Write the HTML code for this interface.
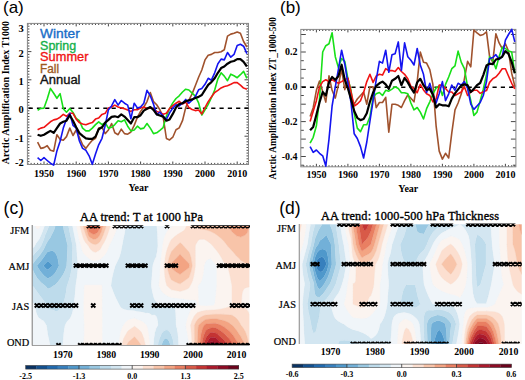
<!DOCTYPE html><html><head><meta charset="utf-8"><style>html,body{margin:0;padding:0;background:#fff;overflow:hidden}svg{display:block}</style></head><body>
<svg width="525" height="380" viewBox="0 0 525 380">
<rect width="525" height="380" fill="#fff"/>
<path d="M27.9,164.5 v-1.6 M27.9,23.4 v1.6 M31.1,164.5 v-1.6 M31.1,23.4 v1.6 M34.3,164.5 v-1.6 M34.3,23.4 v1.6 M37.6,164.5 v-1.6 M37.6,23.4 v1.6 M40.8,164.5 v-1.6 M40.8,23.4 v1.6 M44.0,164.5 v-3.0 M44.0,23.4 v3.0 M47.2,164.5 v-1.6 M47.2,23.4 v1.6 M50.4,164.5 v-1.6 M50.4,23.4 v1.6 M53.7,164.5 v-1.6 M53.7,23.4 v1.6 M56.9,164.5 v-1.6 M56.9,23.4 v1.6 M60.1,164.5 v-1.6 M60.1,23.4 v1.6 M63.3,164.5 v-1.6 M63.3,23.4 v1.6 M66.5,164.5 v-1.6 M66.5,23.4 v1.6 M69.8,164.5 v-1.6 M69.8,23.4 v1.6 M73.0,164.5 v-1.6 M73.0,23.4 v1.6 M76.2,164.5 v-3.0 M76.2,23.4 v3.0 M79.4,164.5 v-1.6 M79.4,23.4 v1.6 M82.6,164.5 v-1.6 M82.6,23.4 v1.6 M85.9,164.5 v-1.6 M85.9,23.4 v1.6 M89.1,164.5 v-1.6 M89.1,23.4 v1.6 M92.3,164.5 v-1.6 M92.3,23.4 v1.6 M95.5,164.5 v-1.6 M95.5,23.4 v1.6 M98.7,164.5 v-1.6 M98.7,23.4 v1.6 M102.0,164.5 v-1.6 M102.0,23.4 v1.6 M105.2,164.5 v-1.6 M105.2,23.4 v1.6 M108.4,164.5 v-3.0 M108.4,23.4 v3.0 M111.6,164.5 v-1.6 M111.6,23.4 v1.6 M114.8,164.5 v-1.6 M114.8,23.4 v1.6 M118.1,164.5 v-1.6 M118.1,23.4 v1.6 M121.3,164.5 v-1.6 M121.3,23.4 v1.6 M124.5,164.5 v-1.6 M124.5,23.4 v1.6 M127.7,164.5 v-1.6 M127.7,23.4 v1.6 M130.9,164.5 v-1.6 M130.9,23.4 v1.6 M134.2,164.5 v-1.6 M134.2,23.4 v1.6 M137.4,164.5 v-1.6 M137.4,23.4 v1.6 M140.6,164.5 v-3.0 M140.6,23.4 v3.0 M143.8,164.5 v-1.6 M143.8,23.4 v1.6 M147.0,164.5 v-1.6 M147.0,23.4 v1.6 M150.3,164.5 v-1.6 M150.3,23.4 v1.6 M153.5,164.5 v-1.6 M153.5,23.4 v1.6 M156.7,164.5 v-1.6 M156.7,23.4 v1.6 M159.9,164.5 v-1.6 M159.9,23.4 v1.6 M163.1,164.5 v-1.6 M163.1,23.4 v1.6 M166.4,164.5 v-1.6 M166.4,23.4 v1.6 M169.6,164.5 v-1.6 M169.6,23.4 v1.6 M172.8,164.5 v-3.0 M172.8,23.4 v3.0 M176.0,164.5 v-1.6 M176.0,23.4 v1.6 M179.2,164.5 v-1.6 M179.2,23.4 v1.6 M182.5,164.5 v-1.6 M182.5,23.4 v1.6 M185.7,164.5 v-1.6 M185.7,23.4 v1.6 M188.9,164.5 v-1.6 M188.9,23.4 v1.6 M192.1,164.5 v-1.6 M192.1,23.4 v1.6 M195.3,164.5 v-1.6 M195.3,23.4 v1.6 M198.6,164.5 v-1.6 M198.6,23.4 v1.6 M201.8,164.5 v-1.6 M201.8,23.4 v1.6 M205.0,164.5 v-3.0 M205.0,23.4 v3.0 M208.2,164.5 v-1.6 M208.2,23.4 v1.6 M211.4,164.5 v-1.6 M211.4,23.4 v1.6 M214.7,164.5 v-1.6 M214.7,23.4 v1.6 M217.9,164.5 v-1.6 M217.9,23.4 v1.6 M221.1,164.5 v-1.6 M221.1,23.4 v1.6 M224.3,164.5 v-1.6 M224.3,23.4 v1.6 M227.5,164.5 v-1.6 M227.5,23.4 v1.6 M230.8,164.5 v-1.6 M230.8,23.4 v1.6 M234.0,164.5 v-1.6 M234.0,23.4 v1.6 M237.2,164.5 v-3.0 M237.2,23.4 v3.0 M240.4,164.5 v-1.6 M240.4,23.4 v1.6 M243.6,164.5 v-1.6 M243.6,23.4 v1.6 M246.9,164.5 v-1.6 M246.9,23.4 v1.6 M27.4,161.6 h2.0 M248.5,161.6 h-2.0 M27.4,158.8 h2.0 M248.5,158.8 h-2.0 M27.4,155.9 h2.0 M248.5,155.9 h-2.0 M27.4,153.1 h2.0 M248.5,153.1 h-2.0 M27.4,150.3 h2.0 M248.5,150.3 h-2.0 M27.4,147.5 h2.0 M248.5,147.5 h-2.0 M27.4,144.7 h2.0 M248.5,144.7 h-2.0 M27.4,141.8 h2.0 M248.5,141.8 h-2.0 M27.4,139.0 h2.0 M248.5,139.0 h-2.0 M27.4,136.2 h4.0 M248.5,136.2 h-4.0 M27.4,133.4 h2.0 M248.5,133.4 h-2.0 M27.4,130.6 h2.0 M248.5,130.6 h-2.0 M27.4,127.7 h2.0 M248.5,127.7 h-2.0 M27.4,124.9 h2.0 M248.5,124.9 h-2.0 M27.4,122.1 h2.0 M248.5,122.1 h-2.0 M27.4,119.3 h2.0 M248.5,119.3 h-2.0 M27.4,116.5 h2.0 M248.5,116.5 h-2.0 M27.4,113.6 h2.0 M248.5,113.6 h-2.0 M27.4,110.8 h2.0 M248.5,110.8 h-2.0 M27.4,108.0 h4.0 M248.5,108.0 h-4.0 M27.4,105.2 h2.0 M248.5,105.2 h-2.0 M27.4,102.4 h2.0 M248.5,102.4 h-2.0 M27.4,99.5 h2.0 M248.5,99.5 h-2.0 M27.4,96.7 h2.0 M248.5,96.7 h-2.0 M27.4,93.9 h2.0 M248.5,93.9 h-2.0 M27.4,91.1 h2.0 M248.5,91.1 h-2.0 M27.4,88.3 h2.0 M248.5,88.3 h-2.0 M27.4,85.4 h2.0 M248.5,85.4 h-2.0 M27.4,82.6 h2.0 M248.5,82.6 h-2.0 M27.4,79.8 h4.0 M248.5,79.8 h-4.0 M27.4,77.0 h2.0 M248.5,77.0 h-2.0 M27.4,74.2 h2.0 M248.5,74.2 h-2.0 M27.4,71.3 h2.0 M248.5,71.3 h-2.0 M27.4,68.5 h2.0 M248.5,68.5 h-2.0 M27.4,65.7 h2.0 M248.5,65.7 h-2.0 M27.4,62.9 h2.0 M248.5,62.9 h-2.0 M27.4,60.1 h2.0 M248.5,60.1 h-2.0 M27.4,57.2 h2.0 M248.5,57.2 h-2.0 M27.4,54.4 h2.0 M248.5,54.4 h-2.0 M27.4,51.6 h4.0 M248.5,51.6 h-4.0 M27.4,48.8 h2.0 M248.5,48.8 h-2.0 M27.4,46.0 h2.0 M248.5,46.0 h-2.0 M27.4,43.1 h2.0 M248.5,43.1 h-2.0 M27.4,40.3 h2.0 M248.5,40.3 h-2.0 M27.4,37.5 h2.0 M248.5,37.5 h-2.0 M27.4,34.7 h2.0 M248.5,34.7 h-2.0 M27.4,31.9 h2.0 M248.5,31.9 h-2.0 M27.4,29.0 h2.0 M248.5,29.0 h-2.0 M27.4,26.2 h2.0 M248.5,26.2 h-2.0" stroke="#333" stroke-width="0.9" fill="none"/>
<rect x="27.4" y="23.4" width="221.1" height="141.1" fill="none" stroke="#888" stroke-width="1"/>
<line x1="28.6" y1="108.3" x2="248.5" y2="108.3" stroke="#000" stroke-width="1.4" stroke-dasharray="4.2,4.1"/>
<path d="M37.6,142.1 L40.8,148.4 L44.0,147.6 L47.2,145.7 L50.4,150.3 L53.7,151.1 L56.9,134.7 L60.1,139.4 L63.3,140.2 L66.5,136.6 L69.8,128.1 L73.0,135.5 L76.2,130.0 L79.4,137.2 L82.6,144.8 L85.9,148.4 L89.1,144.0 L92.3,140.2 L95.5,138.3 L98.7,128.1 L102.0,127.3 L105.2,133.6 L108.4,130.0 L111.6,123.5 L114.8,132.8 L118.1,134.7 L121.3,129.2 L124.5,133.6 L127.7,134.2 L130.9,132.0 L134.2,125.4 L137.4,117.2 L140.6,111.4 L143.8,107.0 L147.0,101.6 L150.3,92.5 L153.5,101.6 L156.7,104.8 L159.9,109.8 L163.1,116.6 L166.4,138.5 L169.6,139.9 L172.8,137.2 L176.0,129.8 L179.2,127.9 L182.5,120.7 L185.7,107.6 L188.9,100.2 L192.1,93.9 L195.3,85.7 L198.6,77.2 L201.8,70.0 L205.0,59.9 L208.2,55.2 L211.4,54.4 L214.7,52.5 L217.9,52.5 L221.1,51.7 L224.3,49.8 L227.5,36.1 L230.8,34.1 L234.0,33.3 L237.2,32.0 L240.4,33.3 L243.6,41.5 L246.9,47.0" stroke="#a0522d" stroke-width="1.6" fill="none" stroke-linejoin="round"/>
<path d="M37.6,110.3 L40.8,108.4 L44.0,108.1 L47.2,99.1 L50.4,88.4 L53.7,93.3 L56.9,98.3 L60.1,93.6 L63.3,108.7 L66.5,112.2 L69.8,108.4 L73.0,112.5 L76.2,118.5 L79.4,120.7 L82.6,128.1 L85.9,130.9 L89.1,130.9 L92.3,128.1 L95.5,124.6 L98.7,121.8 L102.0,124.6 L105.2,122.6 L108.4,128.1 L111.6,127.3 L114.8,124.6 L118.1,120.7 L121.3,121.8 L124.5,119.9 L127.7,126.2 L130.9,130.9 L134.2,130.0 L137.4,126.2 L140.6,128.9 L143.8,128.1 L147.0,123.5 L150.3,128.1 L153.5,133.6 L156.7,132.8 L159.9,130.3 L163.1,127.6 L166.4,116.1 L169.6,108.7 L172.8,102.9 L176.0,98.5 L179.2,95.8 L182.5,92.0 L185.7,89.2 L188.9,90.0 L192.1,93.1 L195.3,96.1 L198.6,102.9 L201.8,115.0 L205.0,109.8 L208.2,104.3 L211.4,97.7 L214.7,90.0 L217.9,78.8 L221.1,72.8 L224.3,76.1 L227.5,80.7 L230.8,74.2 L234.0,75.8 L237.2,77.7 L240.4,74.7 L243.6,71.4 L246.9,78.3" stroke="#18e018" stroke-width="1.6" fill="none" stroke-linejoin="round"/>
<path d="M37.6,129.8 L40.8,128.1 L44.0,127.3 L47.2,124.6 L50.4,121.8 L53.7,119.9 L56.9,119.1 L60.1,117.2 L63.3,114.4 L66.5,116.3 L69.8,113.3 L73.0,113.3 L76.2,119.1 L79.4,122.6 L82.6,124.0 L85.9,124.8 L89.1,123.5 L92.3,122.6 L95.5,119.1 L98.7,118.0 L102.0,114.4 L105.2,113.3 L108.4,107.9 L111.6,107.0 L114.8,105.1 L118.1,107.0 L121.3,107.9 L124.5,108.7 L127.7,110.0 L130.9,111.4 L134.2,109.8 L137.4,109.8 L140.6,107.9 L143.8,107.0 L147.0,108.7 L150.3,107.9 L153.5,108.7 L156.7,111.4 L159.9,112.5 L163.1,114.2 L166.4,113.3 L169.6,108.4 L172.8,105.7 L176.0,103.2 L179.2,101.3 L182.5,104.0 L185.7,102.1 L188.9,107.6 L192.1,109.5 L195.3,110.6 L198.6,110.0 L201.8,113.9 L205.0,107.6 L208.2,101.6 L211.4,96.9 L214.7,92.5 L217.9,90.3 L221.1,87.9 L224.3,86.5 L227.5,85.7 L230.8,84.3 L234.0,82.6 L237.2,82.6 L240.4,85.1 L243.6,88.1 L246.9,89.2" stroke="#f01414" stroke-width="1.6" fill="none" stroke-linejoin="round"/>
<path d="M37.6,157.7 L40.8,160.5 L44.0,157.7 L47.2,160.5 L50.4,163.2 L53.7,165.1 L56.9,150.9 L60.1,141.3 L63.3,128.1 L66.5,119.1 L69.8,113.3 L73.0,125.4 L76.2,128.1 L79.4,141.0 L82.6,148.4 L85.9,150.3 L89.1,155.8 L92.3,164.3 L95.5,153.9 L98.7,144.8 L102.0,138.3 L105.2,125.4 L108.4,109.8 L111.6,105.9 L114.8,99.6 L118.1,105.1 L121.3,100.5 L124.5,103.2 L127.7,105.1 L130.9,118.8 L134.2,103.2 L137.4,107.9 L140.6,107.0 L143.8,103.2 L147.0,90.3 L150.3,95.8 L153.5,104.3 L156.7,114.4 L159.9,112.2 L163.1,116.1 L166.4,119.4 L169.6,112.8 L172.8,108.1 L176.0,104.8 L179.2,105.9 L182.5,103.2 L185.7,99.4 L188.9,103.2 L192.1,100.2 L195.3,96.6 L198.6,89.8 L201.8,88.4 L205.0,84.3 L208.2,78.3 L211.4,80.2 L214.7,72.8 L217.9,63.7 L221.1,59.1 L224.3,59.9 L227.5,52.5 L230.8,57.2 L234.0,54.4 L237.2,45.4 L240.4,44.3 L243.6,46.2 L246.9,53.6" stroke="#1414f0" stroke-width="1.6" fill="none" stroke-linejoin="round"/>
<path d="M37.6,134.7 L40.8,135.8 L44.0,134.7 L47.2,132.8 L50.4,130.9 L53.7,132.8 L56.9,128.1 L60.1,123.5 L63.3,121.8 L66.5,120.7 L69.8,115.2 L73.0,120.7 L76.2,127.3 L79.4,133.1 L82.6,135.8 L85.9,138.3 L89.1,138.8 L92.3,138.8 L95.5,136.6 L98.7,129.2 L102.0,127.3 L105.2,122.6 L108.4,119.9 L111.6,116.9 L114.8,116.3 L118.1,117.2 L121.3,114.4 L124.5,116.6 L127.7,119.9 L130.9,123.5 L134.2,117.2 L137.4,117.2 L140.6,115.2 L143.8,110.6 L147.0,108.7 L150.3,107.0 L153.5,109.8 L156.7,114.4 L159.9,115.5 L163.1,116.6 L166.4,120.7 L169.6,119.4 L172.8,113.9 L176.0,107.6 L179.2,104.0 L182.5,103.2 L185.7,101.3 L188.9,100.2 L192.1,99.4 L195.3,98.0 L198.6,96.9 L201.8,95.0 L205.0,89.8 L208.2,84.8 L211.4,82.1 L214.7,78.3 L217.9,72.8 L221.1,68.1 L224.3,66.5 L227.5,63.7 L230.8,61.8 L234.0,61.0 L237.2,59.1 L240.4,59.1 L243.6,61.8 L246.9,66.5" stroke="#000000" stroke-width="2.2" fill="none" stroke-linejoin="round"/>
<text x="23.8" y="31.8" text-anchor="end" style="font-family:'Liberation Serif',serif;font-size:10.5px;font-weight:bold">3</text>
<text x="23.8" y="56.8" text-anchor="end" style="font-family:'Liberation Serif',serif;font-size:10.5px;font-weight:bold">2</text>
<text x="23.8" y="84.8" text-anchor="end" style="font-family:'Liberation Serif',serif;font-size:10.5px;font-weight:bold">1</text>
<text x="23.8" y="113.1" text-anchor="end" style="font-family:'Liberation Serif',serif;font-size:10.5px;font-weight:bold">0</text>
<text x="23.8" y="141.6" text-anchor="end" style="font-family:'Liberation Serif',serif;font-size:10.5px;font-weight:bold">-1</text>
<text x="23.8" y="165.8" text-anchor="end" style="font-family:'Liberation Serif',serif;font-size:10.5px;font-weight:bold">-2</text>
<text x="44.0" y="177.2" text-anchor="middle" style="font-family:'Liberation Serif',serif;font-size:10px;font-weight:bold">1950</text>
<text x="76.2" y="177.2" text-anchor="middle" style="font-family:'Liberation Serif',serif;font-size:10px;font-weight:bold">1960</text>
<text x="108.4" y="177.2" text-anchor="middle" style="font-family:'Liberation Serif',serif;font-size:10px;font-weight:bold">1970</text>
<text x="140.6" y="177.2" text-anchor="middle" style="font-family:'Liberation Serif',serif;font-size:10px;font-weight:bold">1980</text>
<text x="172.8" y="177.2" text-anchor="middle" style="font-family:'Liberation Serif',serif;font-size:10px;font-weight:bold">1990</text>
<text x="205.0" y="177.2" text-anchor="middle" style="font-family:'Liberation Serif',serif;font-size:10px;font-weight:bold">2000</text>
<text x="237.2" y="177.2" text-anchor="middle" style="font-family:'Liberation Serif',serif;font-size:10px;font-weight:bold">2010</text>
<text x="138.5" y="190.8" text-anchor="middle" style="font-family:'Liberation Serif',serif;font-size:10px;font-weight:bold">Year</text>
<text transform="translate(8.6,92.5) rotate(-90)" text-anchor="middle" style="font-family:'Liberation Serif',serif;font-size:10px;font-weight:bold">Arctic Amplification Index T1000</text>
<text x="40.1" y="38.0" fill="#1a6ec8" stroke="#1a6ec8" stroke-width="0.35" textLength="39.7" lengthAdjust="spacingAndGlyphs" style="font-family:'Liberation Sans',sans-serif;font-size:12.5px">Winter</text>
<text x="40.1" y="49.6" fill="#14b04a" stroke="#14b04a" stroke-width="0.35" textLength="36.0" lengthAdjust="spacingAndGlyphs" style="font-family:'Liberation Sans',sans-serif;font-size:12.5px">Spring</text>
<text x="40.1" y="61.2" fill="#f01414" stroke="#f01414" stroke-width="0.35" textLength="48.3" lengthAdjust="spacingAndGlyphs" style="font-family:'Liberation Sans',sans-serif;font-size:12.5px">Summer</text>
<text x="40.1" y="72.7" fill="#9c5a1e" stroke="#9c5a1e" stroke-width="0.35" textLength="19.0" lengthAdjust="spacingAndGlyphs" style="font-family:'Liberation Sans',sans-serif;font-size:12.5px">Fall</text>
<text x="40.1" y="84.4" fill="#111" stroke="#111" stroke-width="0.35" textLength="40.4" lengthAdjust="spacingAndGlyphs" style="font-family:'Liberation Sans',sans-serif;font-size:12.5px">Annual</text>
<text x="3" y="12.6" style="font-family:'Liberation Sans',sans-serif;font-size:17px">(a)</text>
<path d="M303.8,166.8 v-1.6 M303.8,29.4 v1.6 M306.9,166.8 v-1.6 M306.9,29.4 v1.6 M310.1,166.8 v-1.6 M310.1,29.4 v1.6 M313.2,166.8 v-1.6 M313.2,29.4 v1.6 M316.4,166.8 v-3.0 M316.4,29.4 v3.0 M319.5,166.8 v-1.6 M319.5,29.4 v1.6 M322.7,166.8 v-1.6 M322.7,29.4 v1.6 M325.8,166.8 v-1.6 M325.8,29.4 v1.6 M329.0,166.8 v-1.6 M329.0,29.4 v1.6 M332.1,166.8 v-1.6 M332.1,29.4 v1.6 M335.3,166.8 v-1.6 M335.3,29.4 v1.6 M338.4,166.8 v-1.6 M338.4,29.4 v1.6 M341.6,166.8 v-1.6 M341.6,29.4 v1.6 M344.8,166.8 v-1.6 M344.8,29.4 v1.6 M347.9,166.8 v-3.0 M347.9,29.4 v3.0 M351.0,166.8 v-1.6 M351.0,29.4 v1.6 M354.2,166.8 v-1.6 M354.2,29.4 v1.6 M357.3,166.8 v-1.6 M357.3,29.4 v1.6 M360.5,166.8 v-1.6 M360.5,29.4 v1.6 M363.6,166.8 v-1.6 M363.6,29.4 v1.6 M366.8,166.8 v-1.6 M366.8,29.4 v1.6 M369.9,166.8 v-1.6 M369.9,29.4 v1.6 M373.1,166.8 v-1.6 M373.1,29.4 v1.6 M376.2,166.8 v-1.6 M376.2,29.4 v1.6 M379.4,166.8 v-3.0 M379.4,29.4 v3.0 M382.5,166.8 v-1.6 M382.5,29.4 v1.6 M385.7,166.8 v-1.6 M385.7,29.4 v1.6 M388.8,166.8 v-1.6 M388.8,29.4 v1.6 M392.0,166.8 v-1.6 M392.0,29.4 v1.6 M395.1,166.8 v-1.6 M395.1,29.4 v1.6 M398.3,166.8 v-1.6 M398.3,29.4 v1.6 M401.4,166.8 v-1.6 M401.4,29.4 v1.6 M404.6,166.8 v-1.6 M404.6,29.4 v1.6 M407.8,166.8 v-1.6 M407.8,29.4 v1.6 M410.9,166.8 v-3.0 M410.9,29.4 v3.0 M414.0,166.8 v-1.6 M414.0,29.4 v1.6 M417.2,166.8 v-1.6 M417.2,29.4 v1.6 M420.3,166.8 v-1.6 M420.3,29.4 v1.6 M423.5,166.8 v-1.6 M423.5,29.4 v1.6 M426.6,166.8 v-1.6 M426.6,29.4 v1.6 M429.8,166.8 v-1.6 M429.8,29.4 v1.6 M432.9,166.8 v-1.6 M432.9,29.4 v1.6 M436.1,166.8 v-1.6 M436.1,29.4 v1.6 M439.2,166.8 v-1.6 M439.2,29.4 v1.6 M442.4,166.8 v-3.0 M442.4,29.4 v3.0 M445.5,166.8 v-1.6 M445.5,29.4 v1.6 M448.7,166.8 v-1.6 M448.7,29.4 v1.6 M451.8,166.8 v-1.6 M451.8,29.4 v1.6 M455.0,166.8 v-1.6 M455.0,29.4 v1.6 M458.1,166.8 v-1.6 M458.1,29.4 v1.6 M461.3,166.8 v-1.6 M461.3,29.4 v1.6 M464.4,166.8 v-1.6 M464.4,29.4 v1.6 M467.6,166.8 v-1.6 M467.6,29.4 v1.6 M470.8,166.8 v-1.6 M470.8,29.4 v1.6 M473.9,166.8 v-3.0 M473.9,29.4 v3.0 M477.0,166.8 v-1.6 M477.0,29.4 v1.6 M480.2,166.8 v-1.6 M480.2,29.4 v1.6 M483.3,166.8 v-1.6 M483.3,29.4 v1.6 M486.5,166.8 v-1.6 M486.5,29.4 v1.6 M489.6,166.8 v-1.6 M489.6,29.4 v1.6 M492.8,166.8 v-1.6 M492.8,29.4 v1.6 M495.9,166.8 v-1.6 M495.9,29.4 v1.6 M499.1,166.8 v-1.6 M499.1,29.4 v1.6 M502.2,166.8 v-1.6 M502.2,29.4 v1.6 M505.4,166.8 v-3.0 M505.4,29.4 v3.0 M508.5,166.8 v-1.6 M508.5,29.4 v1.6 M511.7,166.8 v-1.6 M511.7,29.4 v1.6 M514.8,166.8 v-1.6 M514.8,29.4 v1.6 M300.8,165.2 h3.0 M515.9,165.2 h-3.0 M300.8,156.5 h5.0 M515.9,156.5 h-5.0 M300.8,147.8 h3.0 M515.9,147.8 h-3.0 M300.8,139.1 h5.0 M515.9,139.1 h-5.0 M300.8,130.3 h3.0 M515.9,130.3 h-3.0 M300.8,121.6 h5.0 M515.9,121.6 h-5.0 M300.8,112.9 h3.0 M515.9,112.9 h-3.0 M300.8,104.2 h5.0 M515.9,104.2 h-5.0 M300.8,95.5 h3.0 M515.9,95.5 h-3.0 M300.8,86.8 h5.0 M515.9,86.8 h-5.0 M300.8,78.1 h3.0 M515.9,78.1 h-3.0 M300.8,69.4 h5.0 M515.9,69.4 h-5.0 M300.8,60.7 h3.0 M515.9,60.7 h-3.0 M300.8,52.0 h5.0 M515.9,52.0 h-5.0 M300.8,43.2 h3.0 M515.9,43.2 h-3.0 M300.8,34.5 h5.0 M515.9,34.5 h-5.0" stroke="#333" stroke-width="0.9" fill="none"/>
<rect x="300.8" y="29.4" width="215.1" height="137.4" fill="none" stroke="#888" stroke-width="1"/>
<line x1="301.6" y1="87.3" x2="515.9" y2="87.3" stroke="#000" stroke-width="1.4" stroke-dasharray="4.2,4.1"/>
<path d="M310.1,116.4 L313.2,107.7 L316.4,90.3 L319.5,81.1 L322.7,91.5 L325.8,102.1 L329.0,75.8 L332.1,90.3 L335.3,98.1 L338.4,85.1 L341.6,69.4 L344.8,89.6 L347.9,78.4 L351.0,97.3 L354.2,104.2 L357.3,99.0 L360.5,95.5 L363.6,92.0 L366.8,104.2 L369.9,86.8 L373.1,86.8 L376.2,107.7 L379.4,102.5 L382.5,102.5 L385.7,97.3 L388.8,132.1 L392.0,104.2 L395.1,104.2 L398.3,105.3 L401.4,107.5 L404.6,100.7 L407.8,95.0 L410.9,98.3 L414.0,101.8 L417.2,81.6 L420.3,52.0 L423.5,62.2 L426.6,63.1 L429.8,69.6 L432.9,84.4 L436.1,125.8 L439.2,151.1 L442.4,159.1 L445.5,153.3 L448.7,158.0 L451.8,132.8 L455.0,109.8 L458.1,103.0 L461.3,93.8 L464.4,78.8 L467.6,61.4 L470.8,66.8 L473.9,30.0 L477.0,32.8 L480.2,35.4 L483.3,34.5 L486.5,31.8 L489.6,56.7 L492.8,62.1 L495.9,33.7 L499.1,42.9 L502.2,48.5 L505.4,43.8 L508.5,51.1 L511.7,73.2 L514.8,86.1" stroke="#a0522d" stroke-width="1.6" fill="none" stroke-linejoin="round"/>
<path d="M310.1,143.1 L313.2,137.3 L316.4,125.8 L319.5,99.0 L322.7,52.0 L325.8,45.7 L329.0,43.8 L332.1,32.8 L335.3,56.7 L338.4,67.6 L341.6,58.6 L344.8,61.4 L347.9,78.8 L351.0,90.3 L354.2,113.3 L357.3,128.1 L360.5,131.6 L363.6,124.8 L366.8,124.8 L369.9,116.8 L373.1,97.3 L376.2,93.8 L379.4,92.5 L382.5,95.5 L385.7,90.3 L388.8,91.2 L392.0,89.1 L395.1,86.8 L398.3,88.5 L401.4,92.7 L404.6,92.7 L407.8,93.8 L410.9,103.0 L414.0,109.8 L417.2,107.5 L420.3,112.1 L423.5,119.0 L426.6,108.7 L429.8,101.8 L432.9,93.8 L436.1,88.0 L439.2,85.8 L442.4,95.5 L445.5,84.4 L448.7,77.0 L451.8,68.7 L455.0,65.9 L458.1,51.1 L461.3,62.4 L464.4,68.7 L467.6,86.8 L470.8,100.7 L473.9,115.5 L477.0,112.1 L480.2,100.7 L483.3,89.2 L486.5,74.6 L489.6,56.7 L492.8,60.3 L495.9,68.7 L499.1,56.7 L502.2,47.4 L505.4,48.5 L508.5,51.1 L511.7,52.0 L514.8,73.2" stroke="#18e018" stroke-width="1.6" fill="none" stroke-linejoin="round"/>
<path d="M310.1,121.6 L313.2,111.2 L316.4,100.7 L319.5,86.8 L322.7,81.6 L325.8,79.8 L329.0,81.6 L332.1,79.8 L335.3,81.6 L338.4,83.3 L341.6,81.6 L344.8,79.8 L347.9,78.1 L351.0,92.0 L354.2,106.0 L357.3,104.0 L360.5,100.7 L363.6,92.5 L366.8,81.6 L369.9,74.3 L373.1,82.4 L376.2,76.0 L379.4,74.3 L382.5,75.1 L385.7,68.7 L388.8,70.6 L392.0,70.6 L395.1,71.5 L398.3,67.6 L401.4,71.5 L404.6,74.3 L407.8,78.8 L410.9,86.3 L414.0,88.9 L417.2,92.7 L420.3,84.4 L423.5,89.9 L426.6,93.8 L429.8,95.5 L432.9,101.8 L436.1,99.0 L439.2,85.1 L442.4,85.1 L445.5,88.5 L448.7,92.0 L451.8,92.0 L455.0,95.5 L458.1,93.8 L461.3,92.0 L464.4,86.8 L467.6,95.5 L470.8,92.0 L473.9,90.3 L477.0,90.3 L480.2,93.4 L483.3,91.7 L486.5,90.6 L489.6,82.4 L492.8,78.8 L495.9,76.9 L499.1,73.2 L502.2,68.7 L505.4,68.7 L508.5,76.0 L511.7,83.3 L514.8,88.9" stroke="#f01414" stroke-width="1.6" fill="none" stroke-linejoin="round"/>
<path d="M310.1,146.6 L313.2,152.3 L316.4,150.0 L319.5,153.3 L322.7,155.8 L325.8,166.1 L329.0,139.1 L332.1,106.0 L335.3,86.8 L338.4,69.4 L341.6,50.2 L344.8,64.2 L347.9,83.3 L351.0,102.5 L354.2,133.8 L357.3,138.5 L360.5,146.6 L363.6,158.0 L366.8,142.0 L369.9,121.3 L373.1,100.7 L376.2,79.8 L379.4,61.4 L382.5,63.1 L385.7,50.2 L388.8,72.3 L392.0,54.7 L395.1,53.7 L398.3,41.9 L401.4,70.4 L404.6,42.9 L407.8,56.7 L410.9,60.3 L414.0,65.0 L417.2,48.5 L420.3,65.0 L423.5,74.3 L426.6,92.5 L429.8,83.3 L432.9,94.5 L436.1,103.0 L439.2,93.8 L442.4,81.6 L445.5,100.7 L448.7,93.8 L451.8,85.1 L455.0,90.3 L458.1,83.3 L461.3,85.1 L464.4,81.6 L467.6,88.5 L470.8,104.2 L473.9,109.4 L477.0,106.0 L480.2,102.5 L483.3,95.5 L486.5,81.6 L489.6,58.4 L492.8,57.5 L495.9,54.7 L499.1,59.5 L502.2,56.7 L505.4,40.1 L508.5,34.5 L511.7,29.3 L514.8,41.9" stroke="#1414f0" stroke-width="1.6" fill="none" stroke-linejoin="round"/>
<path d="M310.1,130.3 L313.2,126.9 L316.4,114.7 L319.5,102.5 L322.7,92.0 L325.8,95.5 L329.0,82.4 L332.1,77.0 L335.3,79.8 L338.4,76.3 L341.6,64.7 L344.8,79.8 L347.9,88.5 L351.0,99.0 L354.2,111.0 L357.3,117.8 L360.5,120.1 L363.6,119.0 L366.8,113.3 L369.9,101.8 L373.1,92.5 L376.2,85.9 L379.4,83.3 L382.5,81.6 L385.7,84.4 L388.8,88.9 L392.0,80.7 L395.1,78.8 L398.3,76.0 L401.4,85.2 L404.6,77.9 L407.8,82.4 L410.9,88.0 L414.0,92.7 L417.2,82.4 L420.3,78.8 L423.5,85.2 L426.6,89.9 L429.8,88.9 L432.9,94.6 L436.1,107.5 L439.2,104.2 L442.4,105.3 L445.5,105.3 L448.7,106.3 L451.8,98.6 L455.0,93.4 L458.1,89.4 L461.3,85.4 L464.4,84.4 L467.6,85.1 L470.8,92.0 L473.9,88.9 L477.0,85.2 L480.2,83.0 L483.3,75.1 L486.5,65.5 L489.6,63.6 L492.8,64.2 L495.9,59.5 L499.1,58.6 L502.2,56.7 L505.4,51.1 L508.5,53.9 L511.7,62.1 L514.8,73.2" stroke="#000000" stroke-width="2.2" fill="none" stroke-linejoin="round"/>
<text x="297.5" y="55.4" text-anchor="end" style="font-family:'Liberation Serif',serif;font-size:10px;font-weight:bold">0.2</text>
<text x="297.5" y="90.2" text-anchor="end" style="font-family:'Liberation Serif',serif;font-size:10px;font-weight:bold">0.0</text>
<text x="297.5" y="125.0" text-anchor="end" style="font-family:'Liberation Serif',serif;font-size:10px;font-weight:bold">-0.2</text>
<text x="297.5" y="159.9" text-anchor="end" style="font-family:'Liberation Serif',serif;font-size:10px;font-weight:bold">-0.4</text>
<text x="316.4" y="178.4" text-anchor="middle" style="font-family:'Liberation Serif',serif;font-size:10px;font-weight:bold">1950</text>
<text x="347.9" y="178.4" text-anchor="middle" style="font-family:'Liberation Serif',serif;font-size:10px;font-weight:bold">1960</text>
<text x="379.4" y="178.4" text-anchor="middle" style="font-family:'Liberation Serif',serif;font-size:10px;font-weight:bold">1970</text>
<text x="410.9" y="178.4" text-anchor="middle" style="font-family:'Liberation Serif',serif;font-size:10px;font-weight:bold">1980</text>
<text x="442.4" y="178.4" text-anchor="middle" style="font-family:'Liberation Serif',serif;font-size:10px;font-weight:bold">1990</text>
<text x="473.9" y="178.4" text-anchor="middle" style="font-family:'Liberation Serif',serif;font-size:10px;font-weight:bold">2000</text>
<text x="505.4" y="178.4" text-anchor="middle" style="font-family:'Liberation Serif',serif;font-size:10px;font-weight:bold">2010</text>
<text x="408.3" y="191.7" text-anchor="middle" style="font-family:'Liberation Serif',serif;font-size:10px;font-weight:bold">Year</text>
<text transform="translate(276,98.3) rotate(-90)" text-anchor="middle" style="font-family:'Liberation Serif',serif;font-size:9.37px;font-weight:bold">Arctic Amplification Index ZT_1000-500</text>
<text x="280" y="13" style="font-family:'Liberation Sans',sans-serif;font-size:17px">(b)</text>
<defs><clipPath id="clipc"><rect x="32.5" y="226.0" width="217.0" height="119.2"/></clipPath></defs>
<g clip-path="url(#clipc)">
<rect x="32.5" y="226.0" width="217.0" height="119.2" fill="#f0f5f9"/>
<path fill="#4f98cb" stroke="#4f98cb" stroke-width="3" transform="scale(.1)" d="M475 2613l3-1 4 2 20 15 10 11 11 17-12 14-33 27-3 0-17-14-25-27 42-44z"/>
<path fill="#72b0d8" stroke="#72b0d8" stroke-width="3" transform="scale(.1)" d="M515 2507l7-2 20 12 10 10 9 13 11 24 5 17 13 76-28 55-19 29-18 17-14 10-33 17-8-4-29-23-25-27-28-40-19-34 40-46 30-40 16-27 19-24 4-3 37-10zM475 2614l-42 43 25 27 17 14 3 0 33-27 12-14-8-13-13-15-20-15-4-2-3 2z"/>
<path fill="#99c8e2" stroke="#99c8e2" stroke-width="3" transform="scale(.1)" d="M552 2263l0-3 79 0 1 3 9 50 9 30 27 114-10 200-13 40-22 48-29 43-23 30-28 29-10 8-4 1-36 24-24 8-23-29-47-37-39-44-31-56-13-34 0-46 36-48 30-33 44-64 17-35 4-12 22-39 26-37 14-31 10-16 14-31 10-33zM515 2507l-37 10-4 3-19 24-16 27-30 40-40 46 19 34 28 40 25 27 29 23 8 4 33-17 14-10 18-17 19-29 28-55-10-63-12-40-13-23-13-14-20-12-7 2zM1648 3386l24 1 20 28 13 37-91 0 14-38 20-28z"/>
<path fill="#bddbeb" stroke="#bddbeb" stroke-width="3" transform="scale(.1)" d="M492 2260l60 0-7 27-12 30-15 26-14 31-26 37-22 39-4 12-20 40-41 59-30 33-36 48 0-79 18-23 49-53 19-30 23-53 20-61 8-15 27-65 3-3zM632 2260l53 0 41 197-5 200-8 50-13 61-18 60-12 30-13 86-8 37-13 47-10 27-4 5-19 21-18 24-20 11-35-15-32-9-26-41-67-86-80-111 0-166 13 34 31 56 39 44 47 37 23 29 24-8 36-24 4-1 30-28 31-39 29-43 12-24 10-24 13-40 10-200-25-106-14-51-6-40zM1658 3301l14-2 10 7 13 12 17 27 16 47 11 60-34 0-13-37-20-28-4-1-20 0-20 28-14 38-36 0 5-27 12-41 20-46 13-18 10-9 10-7 10-3z"/>
<path fill="#d3e6f1" stroke="#d3e6f1" stroke-width="3" transform="scale(.1)" d="M445 2260l46 0-37 83-20 61-23 53-19 30-49 53-18 23 0-79 22-24 11-23 19-27 14-16 29-67 25-67zM685 2260l41 0 1 3 38 194 7 114 10 83-10 104-15 103-9 107-16 120-10 46-10 28-11 20-9 12-20 18-22 43-12 77-10 120-127 0-24-110-12-87-30-47-20-10-17-12-10-9-11-15-11-24-7-23-10-60-24-36 0-165 80 111 67 86 26 41 32 9 35 15 20-11 18-24 23-26 17-50 9-37 11-57 7-53 11-27 19-63 13-61 8-50 5-200-41-197zM1258 2260l310 0 7 77 4 123-7 56-10 53-4 5-14 30-16 52-15 195 3 27 12 60 11 40 13 27 19 23 25 17 26 10 6 8 30-3 24 0 33 3 22 8 8 7 4 7 5 16 4 37 2 114 9 30 8 43 6 54 4 73-48 0-11-60-16-47-17-27-23-19-14 2-10 3-6 4-14 12-13 18-20 46-12 41-5 27-44 0 4-60 10-67 12-37 8-17 12-19-2-27-6-35-10-27-20-15-24 6-1-3-12-10-25-10-28-1-34-9-50-5-26-8-64-5-35-8-15-6-16-11-14-17-47-96-42-107 7-54 14-70 22-77 40-82 10-31 12-50 20-110 12-51 10-73 2 0z"/>
<path fill="#f0f5f9" stroke="#f0f5f9" stroke-width="3" transform="scale(.1)" d="M328 2260l28 0 2 8 10 20 20-2 4-4 9-22 44 0-25 67-29 67-14 16-19 27-11 23-22 24 0-224 3 0zM728 2260l37 0 21 107 14 57 12 36 2 14 9 33 15 27 10 13 30 28 20 16 30 13 24 3 28-6 18-6 10-6 20-18 36-47 18-39 8-25 51-103 21-58 10-39 84 0-7 57-15 67-26 136-16 55-39 79-15 49-18 78-11 77 29 76 22 51 38 76 10 13 10 9 25 12 29 7 70 6 26 8 44 4 40 10 28 1 25 10 12 10 1 3 24-6 20 15 10 27 6 35 2 27-12 19-8 17-12 37-10 67-4 60-37 0-7-77-8-57-6-33-8-27-3-5-23-23-30-21-44-15-23-10-27 6-40 13-26 25-20 30-13 27-13 43-9 47-9 77-166 0-1-487-1-107-2-6-170 0-3 3-8 180 2 120 5 90 0 67-4 87-2 13-6 17-7 8-13 6-17 3-33 2-5 4-129 0 10-120 12-77 22-43 20-18 15-22 15-38 7-29 17-120 9-87 2-37 13-87 12-113-10-90-7-114-38-190-1-7 2 0zM1568 2260l165 0-23 13-12 9-25 28-20 37-18 60-11 67-13 113-7 77-7 127-7 63 14 34 18 30 20 20 36 23 31 14 126 13 53 10 27 0 33 3 14 6 7 14 3 34-14 6-26 17-19 20-15 25-24 65-14 60 1 17 23 130 7 57-104 0-4-73-6-54-8-43-9-30 0-60-4-77-4-22-7-15-13-10-17-5-33-3-24 0-30 3-6-8-26-10-18-11-14-13-18-26-11-30-16-71-6-43 15-195 16-52 14-30 4-5 10-53 7-56-4-123-7-77zM2102 2584l3 0 3 3 60 70 0 201-10 103-9 70-4 14-8 10-75 4-77-4-5-197 22-26 8-14 12-32 10-47 9-82 9-30 7-13 11-13 17-11 17-6zM326 3021l23 34 10 60 7 23 11 24 11 15 10 9 17 12 20 10 30 47 12 87 24 110-176 0 1-431z"/>
<path fill="#fbf4f0" stroke="#fbf4f0" stroke-width="3" transform="scale(.1)" d="M358 2260l43 0-8 20-5 6-20 2-10-20-2-8 2 0zM768 2260l34 0 11 53 17 61 18 39 9 14 29 33 7 14 15 22 20 17 24 10 10-3 30-17 10-10 10-17 7-16 32-56 11-24 13-33 28-87 69 0-10 39-21 58-51 103-16 44-10 20-14 20-22 27-20 18-10 6-43 12-27-3-23-9-20-14-37-34-10-13-10-16-6-14-10-44-19-63-27-130-1-7 3 0zM1728 2262l5-2 131 0-2 8-10 20-6 9-14 14-55 32-32 24-30 27-7 10-13 26-27 73-17 78-8 56-2 27 7 95 7 49 13 46 10 12 20 19 17 12 80 16 10 0 43-13 24-10 18-12 18-30 17-40 11-40 9-47 9-64-1-197 3-10 13-26 9-13 13-14 7-4 22 1 12-2 10 1 30 18 26 19 24 22 50 60 26 38 22 37 15 32 40 38 23 90 21 107 0 201-27 13-21 7-59 14-70 10-77 4-50 9-40 12-25 27-11 17-15 30-8 20-10 34 9 100 5 100-29 0-7-57-23-130-1-17 7-33 11-39 20-53 10-18 10-13 20-19 20-12 14-6-2-30-5-14-3-4-7-4-13-3-54-2-53-10-126-13-31-14-22-13-28-23-10-13-14-24-14-34 7-63 7-127 7-77 17-142 10-51 15-47 20-37 25-28 30-20zM2101 2584l-16 6-17 11-11 13-7 13-9 30-9 82-10 47-12 32-8 14-22 26 5 197 77 4 75-4 8-10 4-14 9-70 10-103 0-201-60-70-3-3-4 0zM848 2852l170 0 1 2 2 111 1 487-265 0 5-4 40-3 20-6 8-7 4-7 6-26 3-47 1-107-5-90-2-120 7-174 1-6 3-3zM2485 2871l10-2 0 279-11-27-22-32-20-18-15-10-13-6 4-88 4-33 5-20 10-20 8-8 13-8 27-7zM1345 3184l23 10 40 13 14 8 29 23 11 11 6 9 8 27 9 53 8 64 4 50-43 0-16-67-13-37-13-27-30-31-37-28-57 41-14 15-38 67-8 30-7 37-33 0 9-77 9-47 13-43 13-27 20-30 26-25 40-13 27-6z"/>
<path fill="#fcdfd0" stroke="#fcdfd0" stroke-width="3" transform="scale(.1)" d="M805 2260l27 0 23 80 21 50 12 21 27 21 13 7 24 7 6-1 24-13 17-15 8-13 25-55 22-62 7-27 42 0-28 87-19 47-21 40-16 26-7 16-10 17-10 10-30 17-10 3-24-10-20-17-15-22-7-14-29-33-19-33-8-20-17-61-10-46-1-7 3 0zM1865 2260l98 0 23 17 29 14 27 3 60 19 33 15 25 15 52 42 30 29 36 48 54 58 33 41 17 13 20 21 6 9 24 12 20 13 19 8 11 9 7 11 6 3 0 209-26 5-11 4-13 8-8 8-6 10-6 17-5 27-6 87 0 20 13 6 15 10 20 18 22 32 11 27 0 304-9 0-1-3-7-54-5-23-19-54-22-38-24-29-16-32-30-37-31-24-9-5-9-2-75-7-86-2-84 6-14 3-46 21-30 20-6 7-12 19-16 34 2 200-26 0-5-100-9-100 10-34 8-20 15-30 11-17 25-27 40-12 50-9 77-4 70-10 59-14 21-7 27-13 0-201-21-107-23-90-40-38-15-32-22-37-26-38-50-60-24-22-23-17-33-20-10-1-12 2-22-1-7 4-13 14-9 13-13 26-3 10 1 197-9 64-9 47-11 40-12 30-23 40-18 12-24 10-43 13-10 0-80-16-25-19-19-20-3-4-11-36-8-50-6-67-2-47 13-90 7-34 11-40 23-60 13-26 7-10 30-27 32-24 55-32 14-14 6-9 13-28zM1797 2430l-32 30-50 54-14 33-10 30-21 80 4 24 14 55 15 42 10 20 37 20 38 16 14 4 85-60 8-17 16-50 12-54-13-80-11-37-9-20-72-80-16-12-5 2zM1342 3265l3-3 17 12 29 24 21 23 13 27 13 37 16 67-44 0-8-15-23-32-34-38-57 51-10 12-11 22-46 0 7-37 8-30 38-67 14-15 54-38z"/>
<path fill="#f8c4a9" stroke="#f8c4a9" stroke-width="3" transform="scale(.1)" d="M835 2260l21 0 19 67 13 35 14 12 30 18 20 0 6-2 17-10 7-7 12-16 8-15 29-82 30 0-7 27-22 62-15 35-18 33-20 17-21 11-6 1-24-7-20-11-16-13-9-11-7-14-21-50-17-55-6-25 3 0zM1965 2260l322 0 31 54 10 11 37 32 43 14 44-20 20-24 4-10 11-57 8 0 0 400-6-3-7-11-11-9-19-8-20-13-24-12-13-17-21-20-9-6-33-41-54-58-36-48-30-29-40-33-28-19-42-20-60-19-24-2-10-4-30-16-10-7-5-5 2 0zM1798 2429l4-1 16 12 72 80 9 20 11 37 13 80-12 54-16 50-8 17-85 60-14-4-38-16-37-20-10-20-15-42-14-55-4-24 21-80 10-30 14-33 50-54 33-31zM1798 2547l-22 24-61 60-9 26 6 20 6 9 47 36 31 19 6 2 83-62 4-7 5-17-5-20-4-7-50-49-33-36-4 2zM2115 3145l33-3 57 1 33 1 67 6 17 3 30 20 16 15 17 21 16 26 7 16 24 29 22 38 19 54 5 23 8 57-40 0-19-50-14-27-21-34-23-33-32-40-15-16-20-16-20-12-36-16-44-12-50-9-27 1-67 7-20 12-23 17-29 28-4 23-4 53-4 124-28 0-2-200 16-34 18-26 20-14 27-15 23-10 14-4 53-4zM1345 3367l34 38 23 32 8 15-143 0 11-22 10-12 57-51z"/>
<path fill="#f3a483" stroke="#f3a483" stroke-width="3" transform="scale(.1)" d="M858 2260l16 0 9 37 5 15 4 5 40 26 23-6 20-13 21-37 9-27 26 0-19 57-18 40-19 23-23 12-20 0-30-18-14-12-13-35-19-67 2 0zM2288 2260l199 0-11 57-4 10-20 24-44 20-43-14-37-32-8-8-12-19-20-38zM1798 2546l4-1 33 36 50 49 4 7 5 20-5 17-4 7-83 62-6-2-31-19-47-36-6-9-6-20 9-26 61-60 22-25zM2128 3188l24-1 20 3 43 9 31 9 43 20 33 24 15 16 32 40 38 57 26 50 13 37-54 0-60-98-12-16-28-29-40-32-27-17-30-14-47-15-86 8-20 16-17 33-13 47-9 57-5 60-24 0 4-124 4-53 4-23 29-28 23-17 20-12 70-7z"/>
<path fill="#e97f62" stroke="#e97f62" stroke-width="3" transform="scale(.1)" d="M875 2260l13 0 3 7 41 27 10-4 30-20 7-10 26 1-9 26-21 37-20 13-23 6-26-16-14-10-4-5-10-34-3-18zM2138 3232l14 0 43 14 20 9 30 17 47 37 20 20 20 25 60 98-57 0-13-23-19-27-31-36-20-20-17-15-31-23-31-20-23-10-45 2-20 8-23 15-14 25-10 25-11 42-10 57-19 0 5-60 9-57 13-47 13-27 11-13 13-9 76-7z"/>
<path fill="#d85a48" stroke="#d85a48" stroke-width="3" transform="scale(.1)" d="M888 2260l91 0-7 10-37 24-7-2-33-22-4-3-3-7zM2125 3278l25 0 23 10 31 20 31 23 17 15 40 42 20 26 23 38-54 0-38-47-59-57-19-14-17-7-16-2-27 1-15 12-12 13-10 14-10 19-8 21-13 47-20 0 10-57 11-42 20-45 10-10 30-16 27-4z"/>
<path fill="#c43433" stroke="#c43433" stroke-width="3" transform="scale(.1)" d="M2122 3325l26 2 24 11 40 36 31 31 38 47-54 0-45-53-15-14-15-7-27-7-20 1-11 13-13 20-10 20-10 27-24 0 13-47 12-30 8-13 18-22 13-12 4-2 17-1z"/>
<path fill="#ab1a2c" stroke="#ab1a2c" stroke-width="3" transform="scale(.1)" d="M2112 3372l20 0 20 6 15 7 15 14 45 53-46 0-9-13-5-4-39-17-23 0-11 17-8 17-25 0 10-27 16-30 18-23 7 0z"/>
<path fill="#8c0b24" stroke="#8c0b24" stroke-width="3" transform="scale(.1)" d="M2105 3418l23 0 14 5 25 12 5 4 9 13-95 0 8-17 11-17z"/>
</g>
<line x1="32.2" y1="225" x2="32.2" y2="345.5" stroke="#777" stroke-width="1"/>
<line x1="32" y1="345.5" x2="249.5" y2="345.5" stroke="#888" stroke-width="0.8"/>
<defs><clipPath id="clipcx"><rect x="32.5" y="225.3" width="217.5" height="119.7"/></clipPath></defs>
<path clip-path="url(#clipcx)" d="M86.8 224.1L91.1 227.9M91.1 224.1L86.8 227.9M91.1 224.1L95.4 227.9M95.4 224.1L91.1 227.9M95.4 224.1L99.8 227.9M99.8 224.1L95.4 227.9M112.8 224.1L117.1 227.9M117.1 224.1L112.8 227.9M117.1 224.1L121.5 227.9M121.5 224.1L117.1 227.9M121.5 224.1L125.8 227.9M125.8 224.1L121.5 227.9M125.8 224.1L130.1 227.9M130.1 224.1L125.8 227.9M130.2 224.1L134.5 227.9M134.5 224.1L130.2 227.9M134.5 224.1L138.8 227.9M138.8 224.1L134.5 227.9M138.8 224.1L143.2 227.9M143.2 224.1L138.8 227.9M164.9 224.1L169.2 227.9M169.2 224.1L164.9 227.9M190.9 224.1L195.2 227.9M195.2 224.1L190.9 227.9M195.3 224.1L199.6 227.9M199.6 224.1L195.3 227.9M199.6 224.1L203.9 227.9M203.9 224.1L199.6 227.9M203.9 224.1L208.2 227.9M208.2 224.1L203.9 227.9M208.3 224.1L212.6 227.9M212.6 224.1L208.3 227.9M212.6 224.1L216.9 227.9M216.9 224.1L212.6 227.9M217.0 224.1L221.3 227.9M221.3 224.1L217.0 227.9M221.3 224.1L225.6 227.9M225.6 224.1L221.3 227.9M225.6 224.1L229.9 227.9M229.9 224.1L225.6 227.9M230.0 224.1L234.3 227.9M234.3 224.1L230.0 227.9M234.3 224.1L238.6 227.9M238.6 224.1L234.3 227.9M238.7 224.1L243.0 227.9M243.0 224.1L238.7 227.9M243.0 224.1L247.3 227.9M247.3 224.1L243.0 227.9M247.3 224.1L251.7 227.9M251.7 224.1L247.3 227.9M73.8 263.8L78.1 267.6M78.1 263.8L73.8 267.6M78.1 263.8L82.4 267.6M82.4 263.8L78.1 267.6M82.4 263.8L86.7 267.6M86.7 263.8L82.4 267.6M86.8 263.8L91.1 267.6M91.1 263.8L86.8 267.6M91.1 263.8L95.4 267.6M95.4 263.8L91.1 267.6M95.4 263.8L99.8 267.6M99.8 263.8L95.4 267.6M99.8 263.8L104.1 267.6M104.1 263.8L99.8 267.6M104.1 263.8L108.4 267.6M108.4 263.8L104.1 267.6M125.8 263.8L130.1 267.6M130.1 263.8L125.8 267.6M130.2 263.8L134.5 267.6M134.5 263.8L130.2 267.6M134.5 263.8L138.8 267.6M138.8 263.8L134.5 267.6M138.8 263.8L143.2 267.6M143.2 263.8L138.8 267.6M143.2 263.8L147.5 267.6M147.5 263.8L143.2 267.6M164.9 263.8L169.2 267.6M169.2 263.8L164.9 267.6M169.2 263.8L173.5 267.6M173.5 263.8L169.2 267.6M173.6 263.8L177.9 267.6M177.9 263.8L173.6 267.6M217.0 263.8L221.3 267.6M221.3 263.8L217.0 267.6M221.3 263.8L225.6 267.6M225.6 263.8L221.3 267.6M225.6 263.8L229.9 267.6M229.9 263.8L225.6 267.6M230.0 263.8L234.3 267.6M234.3 263.8L230.0 267.6M234.3 263.8L238.6 267.6M238.6 263.8L234.3 267.6M238.7 263.8L243.0 267.6M243.0 263.8L238.7 267.6M243.0 263.8L247.3 267.6M247.3 263.8L243.0 267.6M247.3 263.8L251.7 267.6M251.7 263.8L247.3 267.6M34.7 303.6L39.0 307.4M39.0 303.6L34.7 307.4M39.0 303.6L43.3 307.4M43.3 303.6L39.0 307.4M43.4 303.6L47.7 307.4M47.7 303.6L43.4 307.4M47.7 303.6L52.0 307.4M52.0 303.6L47.7 307.4M52.1 303.6L56.4 307.4M56.4 303.6L52.1 307.4M56.4 303.6L60.7 307.4M60.7 303.6L56.4 307.4M60.7 303.6L65.0 307.4M65.0 303.6L60.7 307.4M65.1 303.6L69.4 307.4M69.4 303.6L65.1 307.4M69.4 303.6L73.7 307.4M73.7 303.6L69.4 307.4M73.8 303.6L78.1 307.4M78.1 303.6L73.8 307.4M91.1 303.6L95.4 307.4M95.4 303.6L91.1 307.4M130.2 303.6L134.5 307.4M134.5 303.6L130.2 307.4M134.5 303.6L138.8 307.4M138.8 303.6L134.5 307.4M138.8 303.6L143.2 307.4M143.2 303.6L138.8 307.4M151.9 303.6L156.2 307.4M156.2 303.6L151.9 307.4M156.2 303.6L160.5 307.4M160.5 303.6L156.2 307.4M160.5 303.6L164.8 307.4M164.8 303.6L160.5 307.4M164.9 303.6L169.2 307.4M169.2 303.6L164.9 307.4M169.2 303.6L173.5 307.4M173.5 303.6L169.2 307.4M173.6 303.6L177.9 307.4M177.9 303.6L173.6 307.4M177.9 303.6L182.2 307.4M182.2 303.6L177.9 307.4M182.2 303.6L186.6 307.4M186.6 303.6L182.2 307.4M186.6 303.6L190.9 307.4M190.9 303.6L186.6 307.4M190.9 303.6L195.2 307.4M195.2 303.6L190.9 307.4M230.0 303.6L234.3 307.4M234.3 303.6L230.0 307.4M234.3 303.6L238.6 307.4M238.6 303.6L234.3 307.4M238.7 303.6L243.0 307.4M243.0 303.6L238.7 307.4M243.0 303.6L247.3 307.4M247.3 303.6L243.0 307.4M247.3 303.6L251.7 307.4M251.7 303.6L247.3 307.4M56.4 343.3L60.7 347.1M60.7 343.3L56.4 347.1M78.1 343.3L82.4 347.1M82.4 343.3L78.1 347.1M82.4 343.3L86.7 347.1M86.7 343.3L82.4 347.1M86.8 343.3L91.1 347.1M91.1 343.3L86.8 347.1M91.1 343.3L95.4 347.1M95.4 343.3L91.1 347.1M95.4 343.3L99.8 347.1M99.8 343.3L95.4 347.1M99.8 343.3L104.1 347.1M104.1 343.3L99.8 347.1M104.1 343.3L108.4 347.1M108.4 343.3L104.1 347.1M108.5 343.3L112.8 347.1M112.8 343.3L108.5 347.1M112.8 343.3L117.1 347.1M117.1 343.3L112.8 347.1M117.1 343.3L121.5 347.1M121.5 343.3L117.1 347.1M186.6 343.3L190.9 347.1M190.9 343.3L186.6 347.1M190.9 343.3L195.2 347.1M195.2 343.3L190.9 347.1M195.3 343.3L199.6 347.1M199.6 343.3L195.3 347.1M199.6 343.3L203.9 347.1M203.9 343.3L199.6 347.1M203.9 343.3L208.2 347.1M208.2 343.3L203.9 347.1M208.3 343.3L212.6 347.1M212.6 343.3L208.3 347.1M212.6 343.3L216.9 347.1M216.9 343.3L212.6 347.1M217.0 343.3L221.3 347.1M221.3 343.3L217.0 347.1M221.3 343.3L225.6 347.1M225.6 343.3L221.3 347.1M225.6 343.3L229.9 347.1M229.9 343.3L225.6 347.1M230.0 343.3L234.3 347.1M234.3 343.3L230.0 347.1M234.3 343.3L238.6 347.1M238.6 343.3L234.3 347.1M238.7 343.3L243.0 347.1M243.0 343.3L238.7 347.1M243.0 343.3L247.3 347.1M247.3 343.3L243.0 347.1M247.3 343.3L251.7 347.1M251.7 343.3L247.3 347.1" stroke="#000" stroke-width="2.0" fill="none"/>
<text x="29.2" y="234.0" text-anchor="end" stroke="#000" stroke-width="0.2" style="font-family:'Liberation Serif',serif;font-size:10.3px">JFM</text>
<text x="29.2" y="270.0" text-anchor="end" stroke="#000" stroke-width="0.2" style="font-family:'Liberation Serif',serif;font-size:10.3px">AMJ</text>
<text x="29.2" y="309.5" text-anchor="end" stroke="#000" stroke-width="0.2" style="font-family:'Liberation Serif',serif;font-size:10.3px">JAS</text>
<text x="29.2" y="346.0" text-anchor="end" stroke="#000" stroke-width="0.2" style="font-family:'Liberation Serif',serif;font-size:10.3px">OND</text>
<text x="62.9" y="358.3" text-anchor="middle" style="font-family:'Liberation Serif',serif;font-size:9.8px;font-weight:bold">1970</text>
<text x="106.3" y="358.3" text-anchor="middle" style="font-family:'Liberation Serif',serif;font-size:9.8px;font-weight:bold">1980</text>
<text x="149.7" y="358.3" text-anchor="middle" style="font-family:'Liberation Serif',serif;font-size:9.8px;font-weight:bold">1990</text>
<text x="193.1" y="358.3" text-anchor="middle" style="font-family:'Liberation Serif',serif;font-size:9.8px;font-weight:bold">2000</text>
<text x="236.5" y="358.3" text-anchor="middle" style="font-family:'Liberation Serif',serif;font-size:9.8px;font-weight:bold">2010</text>
<text x="80" y="221.3" textLength="123" lengthAdjust="spacing" stroke="#000" stroke-width="0.35" style="font-family:'Liberation Serif',serif;font-size:12.3px">AA trend: T at 1000 hPa</text>
<text x="3.6" y="214.1" style="font-family:'Liberation Sans',sans-serif;font-size:17.5px">(c)</text>
<rect x="25.70" y="365.4" width="10.95" height="3.7" fill="#0a3262"/>
<rect x="36.35" y="365.4" width="10.95" height="3.7" fill="#13508e"/>
<rect x="47.00" y="365.4" width="10.95" height="3.7" fill="#2169ad"/>
<rect x="57.65" y="365.4" width="10.95" height="3.7" fill="#377fbd"/>
<rect x="68.30" y="365.4" width="10.95" height="3.7" fill="#4f98cb"/>
<rect x="78.95" y="365.4" width="10.95" height="3.7" fill="#72b0d8"/>
<rect x="89.60" y="365.4" width="10.95" height="3.7" fill="#99c8e2"/>
<rect x="100.25" y="365.4" width="10.95" height="3.7" fill="#bddbeb"/>
<rect x="110.90" y="365.4" width="10.95" height="3.7" fill="#d3e6f1"/>
<rect x="121.55" y="365.4" width="10.95" height="3.7" fill="#f0f5f9"/>
<rect x="132.20" y="365.4" width="10.95" height="3.7" fill="#fbf4f0"/>
<rect x="142.85" y="365.4" width="10.95" height="3.7" fill="#fcdfd0"/>
<rect x="153.50" y="365.4" width="10.95" height="3.7" fill="#f8c4a9"/>
<rect x="164.15" y="365.4" width="10.95" height="3.7" fill="#f3a483"/>
<rect x="174.80" y="365.4" width="10.95" height="3.7" fill="#e97f62"/>
<rect x="185.45" y="365.4" width="10.95" height="3.7" fill="#d85a48"/>
<rect x="196.10" y="365.4" width="10.95" height="3.7" fill="#c43433"/>
<rect x="206.75" y="365.4" width="10.95" height="3.7" fill="#ab1a2c"/>
<rect x="217.40" y="365.4" width="10.95" height="3.7" fill="#8c0b24"/>
<rect x="228.05" y="365.4" width="10.95" height="3.7" fill="#6a031c"/>
<rect x="25.7" y="365.4" width="213.0" height="3.7" fill="none" stroke="#444" stroke-width="0.6"/>
<line x1="79.0" y1="365.4" x2="79.0" y2="369.1" stroke="#333" stroke-width="0.8"/>
<line x1="132.2" y1="365.4" x2="132.2" y2="369.1" stroke="#333" stroke-width="0.8"/>
<line x1="185.4" y1="365.4" x2="185.4" y2="369.1" stroke="#333" stroke-width="0.8"/>
<text x="25.7" y="378.5" text-anchor="middle" style="font-family:'Liberation Serif',serif;font-size:8px;font-weight:bold">-2.5</text>
<text x="79.0" y="378.5" text-anchor="middle" style="font-family:'Liberation Serif',serif;font-size:8px;font-weight:bold">-1.3</text>
<text x="132.2" y="378.5" text-anchor="middle" style="font-family:'Liberation Serif',serif;font-size:8px;font-weight:bold">0.0</text>
<text x="185.4" y="378.5" text-anchor="middle" style="font-family:'Liberation Serif',serif;font-size:8px;font-weight:bold">1.3</text>
<text x="238.7" y="378.5" text-anchor="middle" style="font-family:'Liberation Serif',serif;font-size:8px;font-weight:bold">2.5</text>
<defs><clipPath id="clipd"><rect x="299.8" y="224.3" width="222.0" height="119.6"/></clipPath></defs>
<g clip-path="url(#clipd)">
<rect x="299.8" y="224.3" width="222.0" height="119.6" fill="#f0f5f9"/>
<path fill="#377fbd" stroke="#377fbd" stroke-width="3" transform="scale(.1)" d="M3212 2570l10-2 20 17 13 25 10 31-23 48-20 26-7 3-17 3-23-20-18-50-2-11 21-50 22-15 14-5zM4397 3438l1 1-2 0 1-1z"/>
<path fill="#4f98cb" stroke="#4f98cb" stroke-width="3" transform="scale(.1)" d="M3215 2493l7-2 23 5 8 4 12 10 7 22 7 32 10 77-17 62-17 38-13 24-20 26-24 21-23-28-7-18-18-55-14-70 13-61 6-20 13-27 7-12 23-24 17-4zM3210 2570l-12 5-22 15-21 50 2 11 18 50 23 20 17-3 7-3 20-26 23-48-10-31-13-25-20-17-12 2zM4393 3301l4-2 20 29 14 31 10 30 7 50-106 0 10-63 12-37 9-22 10-10 10-6z"/>
<path fill="#72b0d8" stroke="#72b0d8" stroke-width="3" transform="scale(.1)" d="M3262 2353l4 0 22 47 21 37 4 57 6 150-24 87-18 47-35 63-20 27-24 25-8-5-15-16-22-64-12-47-9-46-15-54-3-24 29-120 12-37 27-38 16-36 27-19 37-34zM3212 2494l-14 3-23 24-7 12-13 27-6 20-13 61 14 70 18 55 7 18 23 28 24-21 20-26 13-24 17-38 17-62-10-77-7-32-7-22-12-10-11-5-20-4-10 3zM4370 3207l10-1 18 2 46 22 10 12 10 66 7 131-23 0-7-50-5-17-15-37-24-36-20 13-4 5-9 22-12 37-10 63-37 0 2-104 6-95 20-18 37-15z"/>
<path fill="#99c8e2" stroke="#99c8e2" stroke-width="3" transform="scale(.1)" d="M3222 2243l75 0 22 53 10 34 7 33 13 84 12 197-14 57-20 67-13 36-15 34-47 73-19 24-35 34-23 2-10-6-7-7-6-10-4-13-6-37-3-57-7-29-11-28-10-33-14-57-10-53 27-111 24-83 11-54 6-20 30-70 13-24 24-36zM3262 2353l-37 34-27 19-16 36-27 38-12 37-29 120 3 24 15 54 9 46 12 47 22 64 15 16 8 5 24-25 20-27 35-63 18-47 24-87-6-150-4-57-21-37-22-47-4 0zM4160 2243l135 0-17 23-12 20-26 54-34-6-30-11-10-24-3-13-6-40 0-3 3 0zM4373 3151l24 1 47 15 20 14 20 18 10 11 19 29-11 90-7 110-24 0-7-131-10-66-10-12-27-14-19-8-18-2-13 2-34 14-20 18-6 95-2 104-31 0-6-194 5-22 12-28 20-20 22-11 46-13z"/>
<path fill="#bddbeb" stroke="#bddbeb" stroke-width="3" transform="scale(.1)" d="M3155 2243l66 0-23 36-13 24-30 70-6 20-11 54-24 83-27 111 10 53 14 57 10 33 11 28 7 29 3 57 6 37 7 19 10 11 10 6 23-2 35-34 21-27 14-24 31-46 11-24 29-84 22-86-12-197-10-67-10-50-10-34-22-53 60 0 1 3 31 201 6 67 17 130-23 89-30 104-20 43-33 55-38 50-16 17-17 13-11 6-21 20-4 81-5 40-8 40-9 27-11 60-11 32-3 3-20 5-14-44-17-93-17-74-10-67-1-13 22-140 6-57-19-63-11-50-12-77 0-14 30-127 21-70 3-27 17-93 15-54 10-23zM4073 2243l84 0 3 27 6 29 10 24 30 11 34 6 26-54 12-20 17-23 148 0-43 23-27 17-20 16-23 24-25 40-24 50-13 34-21 42-7 11-17 14-24 26-13 19-20 40-12 35-4 4-87-2-17-20-11-19-12-32-11-45-10-77 18-35 20-48 21-70 10-47 2 0zM4774 2345l27 18 23 22 21 28 10 17 5 13 0 201-53 197-16 17-17 14-9-31-2-33-8-154-6-207 4-30 8-37 13-35zM4066 2847l84 0 3 4 23 108 25 79-4 10-11 12-26 16-10 2-40-9-47-4-37-14-18-10 0-20 8-53 13-54 7-20 11-23 11-17 5-6 3-1zM4360 3098l30-2 50 7 44 17 26 18 22 30 15 30 7 18 6 23 0 6-27 137-8 57-30 0 7-110 11-90-19-29-10-11-20-18-17-12-7-4-43-13-14-1-10 0-20 5-40 14-12 8-11 11-10 16-12 37 6 197-31 0-9-210 5-61 8-33 10-17 16-12 20-5 40 1 27-4zM3399 3405l43-2 87 4 27 17 17 15-192 0 12-27 6-7z"/>
<path fill="#d3e6f1" stroke="#d3e6f1" stroke-width="3" transform="scale(.1)" d="M3105 2245l0-2 49 0-9 23-15 54-11 57-9 63-29 101-22 96 0 14 9 60 10 50 15 57 8 23-6 57-22 140 1 13 10 67 17 74 17 93 14 44 20-5 3-3 11-32 11-60 9-27 8-40 5-40 4-81 21-20 11-6 17-13 16-17 38-50 33-55 20-43 50-180 3-20-11-73-12-117-32-204 44 0 24 144 14 66 19 137 5 57-21 117-14 54-19 60-10 24-17 33-27 38-20 32-27 35 10 49 16 53 12 30 9 16 10 9 31 22 38 20 5 1 38 29 38 21 17 7 24 5 33 10 37 15 30 15 30 21 23 22 14-6 20-13 14-14 16-23 13-30 14-60 16-20 20-37 8-20 14-47 15-80 4-74 10-113-7-104-4-103 10-53 15-44 9-37 11-64 20-56 18-58 35-86 77 0-10 47-21 70-20 48-17 32-1 7 7 57 7 36 10 35 10 24 10 17 17 20 40 2 47 0 3-2 13-37 20-40 13-19 24-26 17-14 7-11 21-42 22-54 23-44 23-33 33-30 24-16 50-27 151 0-20 15-20 10-47 14-50 29-34 17-20 15-20 20-23 28-21 32-63 131-37 67-13 20 3 63 11 137 19 57 19 47 29 60 20 33 3 3 177 1 17 13 21 23 19 32 10 25 12 40 12 64-13 93-20 107-40 0 8-57 27-137 0-6-6-23-22-48-22-30-26-18-40-16-54-8-27 1-30 5-46 0-14 4-9 6-7 6-7 10-7 20-4 20-5 61 9 210-35 0-6-104-7-83-4-20-14-30-17-20-28-24-20-13-17-7-32-9-20-3-50 7-24 8-20 15-9 12-7 14-10 33-4 24-5 90-10 110-331 0-17-15-27-17-87-4-43 2-6 7-12 27-334 0-7-104-15-294 9-110 12-90-16-90-7-70-2-42 53-196 17-123 14-75zM4065 2848l-2 0-5 6-11 17-11 23-7 20-13 54-8 53 0 20 18 10 37 14 47 4 40 9 10-2 26-16 11-12 4-10-25-79-23-108-3-4-85 1zM4600 2243l306 0 7 67 11 164 15 110 11 60-15 70-21 127-6 27-24 97-20 67-3 5-87 1-17-21-7-12-8-20-12-50-10-87-5-217-14-170-10-76-7-27-6-15-26-47-25-30-27-23zM4773 2347l-12 33-8 37-4 30 6 207 7 137 3 50 9 31 17-14 16-17 53-197 0-201-5-13-10-17-21-28-23-22-20-14-7-4-1 2z"/>
<path fill="#f0f5f9" stroke="#f0f5f9" stroke-width="3" transform="scale(.1)" d="M3065 2243l40 0 0 2-14 75-17 123-53 196 2 42 7 70 16 90-12 90-9 110 15 294 7 104-49 0 0-895 34-114 16-83 14-104 3 0zM3402 2243l42 0 28 144 14 56 22 194-7 60-23 141-13 100-9 47-15 56 14 30 20 35 20 29 30 35 10 6 84 10 47-8 30-16 13-11 26-29 61-77 2-7 0-197 9-43 6-41 11-116 19-83 21-115 20-70 17-46 26-84 67 0-35 86-18 58-20 56-11 64-9 37-15 44-10 53 4 103 7 104-10 113-4 74-15 80-14 47-8 20-20 37-16 20-11 50-16 40-16 23-14 14-20 13-14 6-23-22-30-21-30-15-37-15-33-10-24-5-17-7-38-21-38-29-5-1-38-20-31-22-10-9-9-16-12-30-16-53-10-49 27-35 20-32 27-38 17-33 10-24 19-60 14-54 21-117-5-57-19-137-20-100-17-110zM4590 2246l4-3 5 0 15 11 13 12 25 30 26 47 6 15 7 27 10 76 14 170 4 190 5 70 6 44 7 33 13 37 12 20 12 13 87-1 3-5 20-67 30-124 13-84 23-116-11-57-15-110-11-164-7-67 89 0 0 204 10 103 8 151 10 87 7 30 8 22-90 203-30 18-47 14-104 1-63 7-23 8-10 7-11 12-10 21-10 45-5 66-6 43-5 57-6 97-53 0 20-107 13-93-12-64-12-40-16-37-13-20-11-13-20-19-7-4-177-1-3-3-20-33-29-60-19-47-19-57-14-184 0-16 13-20 37-67 30-60 27-60 12-21 28-39 30-31 20-15 34-17 50-29 47-14 20-10 16-12zM4504 2363l-40 21-43 19-18 19-15 21-58 131-33 63-2 7 11 77 22 117 2 6 20 20 31 24 49 27 53 20 24 7 30 5 23 7 24 12 13 11 16-22 18-34 13-33 14-50 8-60 5-73 2-48-2-32-14-71-18-64-20-50-22-39-9-8-24-14-40-14-14-3-6 1zM4023 3128l13-2 22 2 37 10 17 7 20 13 28 24 12 13 8 12 11 25 4 20 7 83 6 104-42 0-16-114-10-50-10-33-24-27-43-22-21 2-7 3-29 23-13 14-4 7-10 101-5 96-70 0 10-110 5-90 4-24 10-33 7-14 9-12 10-9 16-9 18-5 30-5z"/>
<path fill="#fbf4f0" stroke="#fbf4f0" stroke-width="3" transform="scale(.1)" d="M3015 2246l0-3 47 0 0 3-14 101-11 60-9 40-15 43-15 55 0-225 17-74zM3445 2243l34 0 1 3 16 84 13 49 7 61 7 90 7 44 9 26 21 44-1 113-3 53-7 18-7 5-10 3-1 5-1 197 2 5 7 3 43 17 37 12 37-16 7-4 6-7 6-13 4-24 7-23 8-17 14-16 8-20 16-57 7-37 5-94 9-100 4-10 20-33 12-30 14-52 16-76 59-203 49 0-26 84-17 46-20 70-21 115-19 83-11 116-6 41-9 43 0 197-2 7-61 77-29 32-30 20-17 6-40 6-87-11-17-16-30-38-24-39-20-41 15-56 9-47 13-100 11-60 19-134-22-201-14-56-16-77-11-57 0-10zM4998 2243l71 0 0 204 8 127 7 71 47 206 15 27 25 31 18 16 29 18 0 496-172 0-2-187-8-44-14-40-14-20-12-10-22-12-33-9-77-5-90 0-30 12-17 10-25 24-7 10-17 37-18 62-13 78-8 94-21 0 6-97 5-57 6-43 5-66 10-45 10-21 11-12 10-7 23-8 63-7 104-1 47-14 23-13 7-5 3-5 87-196-13-44-7-44-5-53-8-151-10-103 0-204 3 0zM4507 2362l17 3 40 14 24 14 9 8 7 11 21 41 14 37 18 64 14 71 2 16-2 64-5 73-8 60-14 50-13 33-18 34-16 22-13-11-24-12-23-7-44-9-63-23-49-27-31-24-20-20-15-70-18-113-2-17 2-7 33-63 53-121 10-18 20-25 8-7 43-19 43-22zM4503 2443l-32 20-31 24-21 20-56 124-4 13 14 47 10 26 10 21 19 30 8 10 22 20 26 20 39 24 17-9 27-22 18-20 15-22 14-28 6-19 11-41 7-40-11-41-14-40-23-42-19-28-23-27-22-20-7 0zM4043 3195l20-2 20 9 27 16 20 24 10 33 10 50 16 114-34 0-7-40-17-64-21-40-24-16-11 16-12 30-15 71-6 43-45 0 5-96 10-101 4-7 23-23 19-14 8-3z"/>
<path fill="#fcdfd0" stroke="#fcdfd0" stroke-width="3" transform="scale(.1)" d="M3001 2243l14 0 0 3-17 75 0-78 3 0zM3482 2243l26 0 12 80 11 120 12 51 19 54 20 42 17 27 20 26 54-22 33-17 10-10 14-20 16-29 17-41 73-261 42 0-59 203-16 76-14 52-12 30-20 33-4 10-9 100-5 94-7 37-16 57-8 20-14 16-8 17-7 23-4 24-6 13-6 7-7 4-37 16-37-12-43-17-7-3-2-5 1-197 1-5 10-3 7-5 7-18 3-53 1-113-21-44-11-36-5-34-7-90-7-61-13-49-13-64-4-23 3 0zM5071 2243l57 0 1 200 16 47 10 39 10 54 7 58 23 60 23 43 0 199-29-18-18-16-25-31-15-27-47-206-7-71-8-127 0-204 2 0zM4504 2443l6 0 22 20 23 27 22 33 20 37 14 40 11 41-7 40-11 41-6 19-14 28-15 22-18 20-27 22-17 9-39-24-26-20-19-17-11-13-19-30-10-21-10-26-14-47 4-13 56-124 21-20 31-24 33-20zM4504 2544l-29 26-27 30-25 33-4 11 19 27 22 26 23 24 24 21 7-6 10-13 21-32 15-30 7-17 0-4-14-30-19-33-20-29-7-7-3 3zM4767 3115l7-3 90 0 77 5 38 11 17 10 12 10 14 20 6 14 8 26 7 34 2 37 1 160-33 0-6-77-7-50-12-55-10-25-17-24-30-30-23-14-44-15-90 0-27 18-17 18-10 13-13 24-21 47-9 26-11 50-12 94-15 0 8-94 6-43 10-47 15-50 17-37 12-16 20-18 17-10 23-9zM4063 3279l24 16 21 40 14 51 10 53-35 0-11-31-12 4-9 7-6 20-40 0 6-43 15-71 7-20 9-17 7-9z"/>
<path fill="#f8c4a9" stroke="#f8c4a9" stroke-width="3" transform="scale(.1)" d="M3509 2243l22 0 14 107 16 97 16 47 13 30 29 51 3 0 34-18 30-18 23-17 20-38 14-37 56-204 37 0-73 261-23 53-14 23-17 22-36 19-54 22-20-26-17-27-20-42-19-54-12-51-11-120-11-80zM5131 2243l57 0 10 47 12 37 8 18 0 399-23-43-23-60-7-58-10-54-10-39-16-47-1-200 3 0zM4507 2541l7 7 20 29 19 33 14 30 0 4-7 17-15 30-21 32-10 13-7 6-24-21-23-24-22-26-19-27 4-11 25-33 27-30 32-29zM4771 3151l3-2 90 0 21 6 23 9 23 14 30 30 17 24 5 10 12 43 12 77 6 77-26 0-7-47-13-60-19-56-17-35-13-17-17-16-37-23-90 0-24 23-13 18-34 59-20 60-9 44-6 47-1 3-13 0 6-55 9-55 8-34 9-26 21-47 13-24 27-31 24-16zM4083 3408l4 1 10 30-38 0 6-20 9-7 9-4z"/>
<path fill="#f3a483" stroke="#f3a483" stroke-width="3" transform="scale(.1)" d="M3532 2243l26 0 31 197 13 34 17 34 7-2 33-22 47-38 3-5 10-34 45-164 35 0-56 204-14 37-15 30-8 11-20 14-64 36-3 0-7-10-22-41-13-30-16-47-26-167-4-30 1-7zM5188 2243l30 0 0 102-8-18-12-37-10-47zM4774 3185l90 0 37 23 17 16 10 12 10 17 21 52 9 31 10 46 9 57-23 0-19-84-22-60-15-27-20-26-17-15-10-6-87 0-4 4-29 40-34 62-17 55-11 57-12 0 7-50 9-44 20-60 34-59 22-28 15-13z"/>
<path fill="#e97f62" stroke="#e97f62" stroke-width="3" transform="scale(.1)" d="M3559 2243l30 0 30 197 3-1 10-15 29-27 21-30 27-57 19-67 36 0-56 200-22 20-27 21-37 24-4-1-7-13-22-54-29-180-1-17zM4774 3221l87 0 10 6 17 15 18 23 12 20 16 37 18 60 12 57-20 0-21-77-15-37-44-60-13-3-44-3-33 2-25 34-17 30-23 47-18 67-12 0 11-57 17-55 34-62 33-44z"/>
<path fill="#d85a48" stroke="#d85a48" stroke-width="3" transform="scale(.1)" d="M3589 2243l34 0 8 37 11 25 20-10 4-4 21-48 41 0-19 67-27 57-21 30-29 27-10 15-3 1-30-197zM4774 3261l23-2 34 1 33 5 44 60 15 37 21 77-19 0-17-57-16-27-28-40-23-10-24-5-20 0-23 6-21 26-17 30-23 50-9 27-13 0 18-67 34-67 31-44z"/>
<path fill="#c43433" stroke="#c43433" stroke-width="3" transform="scale(.1)" d="M3626 2243l61 0-21 48-4 4-20 10-14-35-5-24 0-3 3 0zM4791 3301l26-1 24 5 23 10 28 40 16 27 17 57-18 0-16-31-22-36-8-10-20-13-24-8-23 0-20 10-26 31-26 57-18 0 9-27 18-40 20-37 23-29 17-5z"/>
<path fill="#ab1a2c" stroke="#ab1a2c" stroke-width="3" transform="scale(.1)" d="M4794 3341l27 1 20 7 20 13 8 10 22 36 16 31-29 0-17-28-17-15-23-13-17-2-10 1-17 11-10 9-16 17-9 20-20 0 21-47 11-19 20-22 20-10z"/>
<path fill="#8c0b24" stroke="#8c0b24" stroke-width="3" transform="scale(.1)" d="M4797 3381l21 1 26 14 17 15 17 28-36 0-21-15-10-2-15 0-21 17-33 0 7-17 5-7 23-22 20-12z"/>
<path fill="#6a031c" stroke="#6a031c" stroke-width="3" transform="scale(.1)" d="M4797 3422l24 2 21 15-67 0 22-17z"/>
</g>
<line x1="299.3" y1="224" x2="299.3" y2="344" stroke="#999" stroke-width="1.2"/>
<defs><clipPath id="clipdx"><rect x="299.8" y="223.6" width="222" height="119.9"/></clipPath></defs>
<path clip-path="url(#clipdx)" d="M337.4 222.4L341.7 226.2M341.7 222.4L337.4 226.2M341.8 222.4L346.1 226.2M346.1 222.4L341.8 226.2M346.3 222.4L350.6 226.2M350.6 222.4L346.3 226.2M350.7 222.4L355.0 226.2M355.0 222.4L350.7 226.2M355.1 222.4L359.4 226.2M359.4 222.4L355.1 226.2M390.7 222.4L395.0 226.2M395.0 222.4L390.7 226.2M395.2 222.4L399.5 226.2M399.5 222.4L395.2 226.2M399.6 222.4L403.9 226.2M403.9 222.4L399.6 226.2M404.1 222.4L408.4 226.2M408.4 222.4L404.1 226.2M408.5 222.4L412.8 226.2M412.8 222.4L408.5 226.2M430.7 222.4L435.0 226.2M435.0 222.4L430.7 226.2M435.2 222.4L439.5 226.2M439.5 222.4L435.2 226.2M439.6 222.4L443.9 226.2M443.9 222.4L439.6 226.2M444.1 222.4L448.4 226.2M448.4 222.4L444.1 226.2M448.5 222.4L452.8 226.2M452.8 222.4L448.5 226.2M466.3 222.4L470.6 226.2M470.6 222.4L466.3 226.2M470.7 222.4L475.0 226.2M475.0 222.4L470.7 226.2M475.2 222.4L479.5 226.2M479.5 222.4L475.2 226.2M479.6 222.4L483.9 226.2M483.9 222.4L479.6 226.2M484.1 222.4L488.4 226.2M488.4 222.4L484.1 226.2M488.5 222.4L492.8 226.2M492.8 222.4L488.5 226.2M493.0 222.4L497.3 226.2M497.3 222.4L493.0 226.2M497.4 222.4L501.7 226.2M501.7 222.4L497.4 226.2M501.9 222.4L506.2 226.2M506.2 222.4L501.9 226.2M506.3 222.4L510.6 226.2M510.6 222.4L506.3 226.2M510.8 222.4L515.1 226.2M515.1 222.4L510.8 226.2M310.7 262.3L315.0 266.1M315.0 262.3L310.7 266.1M315.1 262.3L319.4 266.1M319.4 262.3L315.1 266.1M341.8 262.3L346.1 266.1M346.1 262.3L341.8 266.1M346.3 262.3L350.6 266.1M350.6 262.3L346.3 266.1M350.7 262.3L355.0 266.1M355.0 262.3L350.7 266.1M355.1 262.3L359.4 266.1M359.4 262.3L355.1 266.1M359.6 262.3L363.9 266.1M363.9 262.3L359.6 266.1M364.0 262.3L368.3 266.1M368.3 262.3L364.0 266.1M368.5 262.3L372.8 266.1M372.8 262.3L368.5 266.1M390.7 262.3L395.0 266.1M395.0 262.3L390.7 266.1M395.2 262.3L399.5 266.1M399.5 262.3L395.2 266.1M399.6 262.3L403.9 266.1M403.9 262.3L399.6 266.1M404.1 262.3L408.4 266.1M408.4 262.3L404.1 266.1M408.5 262.3L412.8 266.1M412.8 262.3L408.5 266.1M412.9 262.3L417.2 266.1M417.2 262.3L412.9 266.1M417.4 262.3L421.7 266.1M421.7 262.3L417.4 266.1M421.8 262.3L426.1 266.1M426.1 262.3L421.8 266.1M493.0 262.3L497.3 266.1M497.3 262.3L493.0 266.1M497.4 262.3L501.7 266.1M501.7 262.3L497.4 266.1M501.9 262.3L506.2 266.1M506.2 262.3L501.9 266.1M506.3 262.3L510.6 266.1M510.6 262.3L506.3 266.1M510.8 262.3L515.1 266.1M515.1 262.3L510.8 266.1M515.2 262.3L519.5 266.1M519.5 262.3L515.2 266.1M519.6 262.3L523.9 266.1M523.9 262.3L519.6 266.1M310.7 302.2L315.0 306.0M315.0 302.2L310.7 306.0M315.1 302.2L319.4 306.0M319.4 302.2L315.1 306.0M319.6 302.2L323.9 306.0M323.9 302.2L319.6 306.0M324.0 302.2L328.3 306.0M328.3 302.2L324.0 306.0M328.5 302.2L332.8 306.0M332.8 302.2L328.5 306.0M332.9 302.2L337.2 306.0M337.2 302.2L332.9 306.0M359.6 302.2L363.9 306.0M363.9 302.2L359.6 306.0M364.0 302.2L368.3 306.0M368.3 302.2L364.0 306.0M368.5 302.2L372.8 306.0M372.8 302.2L368.5 306.0M372.9 302.2L377.2 306.0M377.2 302.2L372.9 306.0M390.7 302.2L395.0 306.0M395.0 302.2L390.7 306.0M395.2 302.2L399.5 306.0M399.5 302.2L395.2 306.0M399.6 302.2L403.9 306.0M403.9 302.2L399.6 306.0M404.1 302.2L408.4 306.0M408.4 302.2L404.1 306.0M408.5 302.2L412.8 306.0M412.8 302.2L408.5 306.0M435.2 302.2L439.5 306.0M439.5 302.2L435.2 306.0M439.6 302.2L443.9 306.0M443.9 302.2L439.6 306.0M444.1 302.2L448.4 306.0M448.4 302.2L444.1 306.0M448.5 302.2L452.8 306.0M452.8 302.2L448.5 306.0M453.0 302.2L457.3 306.0M457.3 302.2L453.0 306.0M457.4 302.2L461.7 306.0M461.7 302.2L457.4 306.0M510.8 302.2L515.1 306.0M515.1 302.2L510.8 306.0M515.2 302.2L519.5 306.0M519.5 302.2L515.2 306.0M519.6 302.2L523.9 306.0M523.9 302.2L519.6 306.0M350.7 342.0L355.0 345.8M355.0 342.0L350.7 345.8M355.1 342.0L359.4 345.8M359.4 342.0L355.1 345.8M359.6 342.0L363.9 345.8M363.9 342.0L359.6 345.8M364.0 342.0L368.3 345.8M368.3 342.0L364.0 345.8M368.5 342.0L372.8 345.8M372.8 342.0L368.5 345.8M372.9 342.0L377.2 345.8M377.2 342.0L372.9 345.8M377.4 342.0L381.7 345.8M381.7 342.0L377.4 345.8M381.8 342.0L386.1 345.8M386.1 342.0L381.8 345.8M386.3 342.0L390.6 345.8M390.6 342.0L386.3 345.8M404.1 342.0L408.4 345.8M408.4 342.0L404.1 345.8M408.5 342.0L412.8 345.8M412.8 342.0L408.5 345.8M412.9 342.0L417.2 345.8M417.2 342.0L412.9 345.8M417.4 342.0L421.7 345.8M421.7 342.0L417.4 345.8M421.8 342.0L426.1 345.8M426.1 342.0L421.8 345.8M426.3 342.0L430.6 345.8M430.6 342.0L426.3 345.8M430.7 342.0L435.0 345.8M435.0 342.0L430.7 345.8M435.2 342.0L439.5 345.8M439.5 342.0L435.2 345.8M439.6 342.0L443.9 345.8M443.9 342.0L439.6 345.8M444.1 342.0L448.4 345.8M448.4 342.0L444.1 345.8M501.9 342.0L506.2 345.8M506.2 342.0L501.9 345.8M506.3 342.0L510.6 345.8M510.6 342.0L506.3 345.8M510.8 342.0L515.1 345.8M515.1 342.0L510.8 345.8M515.2 342.0L519.5 345.8M519.5 342.0L515.2 345.8" stroke="#000" stroke-width="2.0" fill="none"/>
<text x="296" y="232.2" text-anchor="end" stroke="#000" stroke-width="0.2" style="font-family:'Liberation Serif',serif;font-size:10.3px">JFM</text>
<text x="296" y="268.5" text-anchor="end" stroke="#000" stroke-width="0.2" style="font-family:'Liberation Serif',serif;font-size:10.3px">AMJ</text>
<text x="296" y="307.9" text-anchor="end" stroke="#000" stroke-width="0.2" style="font-family:'Liberation Serif',serif;font-size:10.3px">JAS</text>
<text x="296" y="344.5" text-anchor="end" stroke="#000" stroke-width="0.2" style="font-family:'Liberation Serif',serif;font-size:10.3px">OND</text>
<text x="330.6" y="355.2" text-anchor="middle" style="font-family:'Liberation Serif',serif;font-size:9.8px;font-weight:bold">1970</text>
<text x="375.1" y="355.2" text-anchor="middle" style="font-family:'Liberation Serif',serif;font-size:9.8px;font-weight:bold">1980</text>
<text x="419.5" y="355.2" text-anchor="middle" style="font-family:'Liberation Serif',serif;font-size:9.8px;font-weight:bold">1990</text>
<text x="464.0" y="355.2" text-anchor="middle" style="font-family:'Liberation Serif',serif;font-size:9.8px;font-weight:bold">2000</text>
<text x="508.5" y="355.2" text-anchor="middle" style="font-family:'Liberation Serif',serif;font-size:9.8px;font-weight:bold">2010</text>
<text x="321" y="219.5" textLength="178" lengthAdjust="spacing" stroke="#000" stroke-width="0.35" style="font-family:'Liberation Serif',serif;font-size:12.3px">AA trend: 1000-500 hPa Thickness</text>
<text x="279.3" y="213.7" style="font-family:'Liberation Sans',sans-serif;font-size:17.5px">(d)</text>
<rect x="292.10" y="364.1" width="11.26" height="3.5" fill="#0a3262"/>
<rect x="303.06" y="364.1" width="11.26" height="3.5" fill="#13508e"/>
<rect x="314.02" y="364.1" width="11.26" height="3.5" fill="#2169ad"/>
<rect x="324.98" y="364.1" width="11.26" height="3.5" fill="#377fbd"/>
<rect x="335.94" y="364.1" width="11.26" height="3.5" fill="#4f98cb"/>
<rect x="346.90" y="364.1" width="11.26" height="3.5" fill="#72b0d8"/>
<rect x="357.86" y="364.1" width="11.26" height="3.5" fill="#99c8e2"/>
<rect x="368.82" y="364.1" width="11.26" height="3.5" fill="#bddbeb"/>
<rect x="379.78" y="364.1" width="11.26" height="3.5" fill="#d3e6f1"/>
<rect x="390.74" y="364.1" width="11.26" height="3.5" fill="#f0f5f9"/>
<rect x="401.70" y="364.1" width="11.26" height="3.5" fill="#fbf4f0"/>
<rect x="412.66" y="364.1" width="11.26" height="3.5" fill="#fcdfd0"/>
<rect x="423.62" y="364.1" width="11.26" height="3.5" fill="#f8c4a9"/>
<rect x="434.58" y="364.1" width="11.26" height="3.5" fill="#f3a483"/>
<rect x="445.54" y="364.1" width="11.26" height="3.5" fill="#e97f62"/>
<rect x="456.50" y="364.1" width="11.26" height="3.5" fill="#d85a48"/>
<rect x="467.46" y="364.1" width="11.26" height="3.5" fill="#c43433"/>
<rect x="478.42" y="364.1" width="11.26" height="3.5" fill="#ab1a2c"/>
<rect x="489.38" y="364.1" width="11.26" height="3.5" fill="#8c0b24"/>
<rect x="500.34" y="364.1" width="11.26" height="3.5" fill="#6a031c"/>
<rect x="292.1" y="364.1" width="219.2" height="3.5" fill="none" stroke="#444" stroke-width="0.6"/>
<line x1="346.9" y1="364.1" x2="346.9" y2="367.6" stroke="#333" stroke-width="0.8"/>
<line x1="401.7" y1="364.1" x2="401.7" y2="367.6" stroke="#333" stroke-width="0.8"/>
<line x1="456.5" y1="364.1" x2="456.5" y2="367.6" stroke="#333" stroke-width="0.8"/>
<text x="292.1" y="377.3" text-anchor="middle" style="font-family:'Liberation Serif',serif;font-size:8px;font-weight:bold">-0.6</text>
<text x="346.9" y="377.3" text-anchor="middle" style="font-family:'Liberation Serif',serif;font-size:8px;font-weight:bold">-0.3</text>
<text x="401.7" y="377.3" text-anchor="middle" style="font-family:'Liberation Serif',serif;font-size:8px;font-weight:bold">0.0</text>
<text x="456.5" y="377.3" text-anchor="middle" style="font-family:'Liberation Serif',serif;font-size:8px;font-weight:bold">0.3</text>
<text x="511.3" y="377.3" text-anchor="middle" style="font-family:'Liberation Serif',serif;font-size:8px;font-weight:bold">0.6</text>
</svg></body></html>
